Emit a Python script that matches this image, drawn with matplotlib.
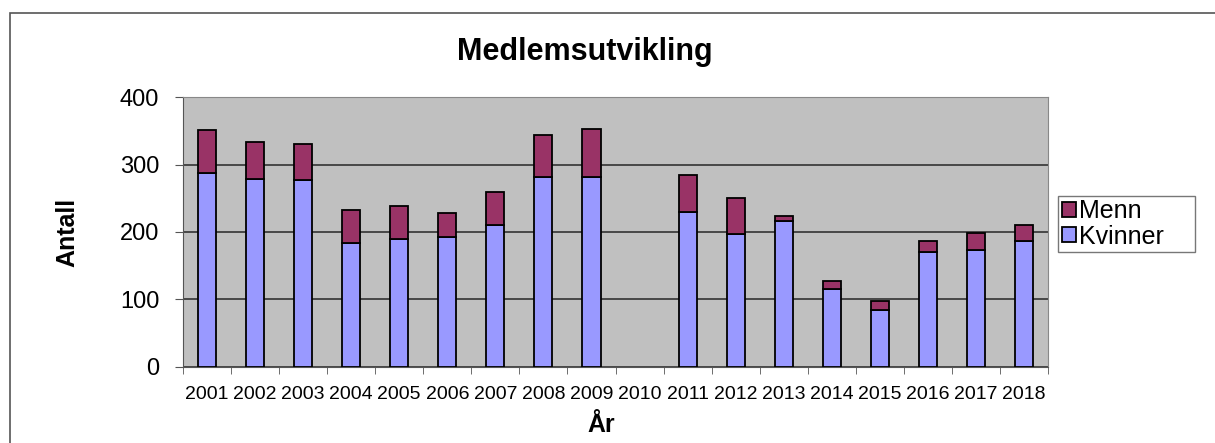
import matplotlib.pyplot as plt
import numpy as np
from matplotlib.patches import Rectangle

years = [str(y) for y in range(2001, 2019)]
kvinner = [288, 278, 277, 184, 189, 192, 210, 281, 281, 0, 230, 197, 216, 115, 85, 170, 174, 186]
menn = [63, 55, 53, 48, 50, 36, 50, 63, 71, 0, 55, 54, 8, 13, 13, 16, 24, 24]

plt.rcParams['font.family'] = ['Liberation Sans', 'DejaVu Sans']

fig = plt.figure(figsize=(12.15, 4.43), dpi=100)
ax = fig.add_axes([0.1506, 0.1716, 0.712, 0.6094])

# outer chart frame
fig.patches.append(Rectangle((10 / 1215, -0.1), 1.2, 1 - 13 / 443 + 0.1,
                             transform=fig.transFigure, fill=False,
                             edgecolor='#555555', linewidth=1.2))

x = np.arange(len(years))
w = 0.375
# no outline for empty years (2010)
edges_k = ['black' if v > 0 else 'none' for v in kvinner]
edges_m = ['black' if v > 0 else 'none' for v in menn]
ax.bar(x, kvinner, w, color='#9999FF', edgecolor=edges_k, linewidth=1.3,
       label='Kvinner', zorder=3)
ax.bar(x, menn, w, bottom=kvinner, color='#993366', edgecolor=edges_m,
       linewidth=1.3, label='Menn', zorder=3)

ax.set_facecolor('#C0C0C0')
ax.set_xlim(-0.5, len(years) - 0.5)
ax.set_ylim(0, 400)
ax.set_yticks([0, 100, 200, 300, 400])
ax.yaxis.grid(True, color='#333333', linewidth=1.2, zorder=1)
ax.set_axisbelow(True)

ax.set_xticks(x)
ax.set_xticklabels(years, fontsize=14)
ax.set_xticks(np.arange(-0.5, len(years)), minor=True)
ax.tick_params(axis='x', which='major', length=0, pad=14)
ax.tick_params(axis='x', which='minor', length=5, color='#555555')
ax.tick_params(axis='y', labelsize=17, length=6, color='#555555', pad=11)

for s in ['top', 'right']:
    ax.spines[s].set_color('#888888')
for s in ['left', 'bottom']:
    ax.spines[s].set_color('#555555')

fig.text(585 / 1215, 1 - 52 / 443, 'Medlemsutvikling', fontsize=22,
         fontweight='bold', ha='center', va='center')
ax.set_xlabel('År', fontsize=18, fontweight='bold', va='center')
ax.xaxis.set_label_coords(0.483, -0.215)
ax.set_ylabel('Antall', fontsize=18, fontweight='bold', va='center')
ax.yaxis.set_label_coords(-0.134, 0.5)

handles, labels = ax.get_legend_handles_labels()
leg = ax.legend(handles[::-1], labels[::-1], loc='center left',
                bbox_to_anchor=(1.0116, 0.422, 0.1584, 0.215), mode='expand',
                fontsize=18, frameon=True,
                fancybox=False, edgecolor='#555555', handlelength=0.55,
                handleheight=0.55, handletextpad=0.15, borderpad=0.15,
                labelspacing=0.05, borderaxespad=0)
leg.get_frame().set_linewidth(1.0)

plt.savefig('out.png', dpi=100)
